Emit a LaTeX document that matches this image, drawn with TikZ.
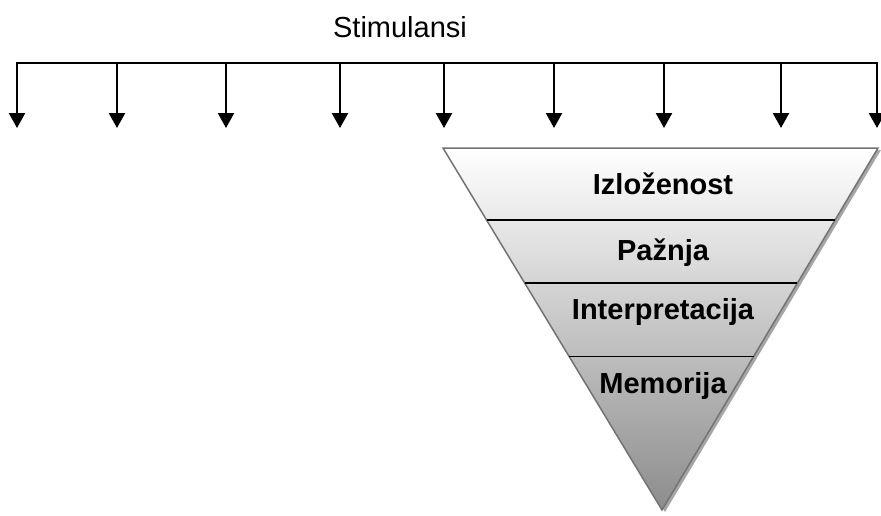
\documentclass[tikz,border=0pt]{standalone}
\usepackage{fontspec}
\setmainfont{Liberation Sans}
\usetikzlibrary{arrows.meta,calc}

\begin{document}
\begin{tikzpicture}[x=1pt,y=-1pt,
  lvl/.style={font=\fontsize{29}{33}\selectfont\bfseries,anchor=base},
  stimarrow/.style={line width=2.4pt,-{Triangle[width=16pt,length=15pt]}},
  divider/.style={line width=1.3pt}]
  \useasboundingbox (0,0) rectangle (881,515);

  \node(stim)[anchor=base,font=\fontsize{29}{33}\selectfont] at (400,37) {Stimulansi};

  \foreach \x [count=\i] in {17,117,226,340,444,554,664,781,877}{
    \coordinate (s\i) at (\x,63);
    \coordinate (t\i) at (\x,128);
    \draw [stimarrow] (s\i) -- (t\i);
  }
  \draw [line width=2.4pt,line cap=rect] (s1) -- (s9);

  \coordinate (tl) at (443,148);
  \coordinate (tr) at (878,148);
  \coordinate (ap) at (662,510);
  \fill[black!35] ($(tl)+(3,2)$) -- ($(tr)+(3,2)$) -- ($(ap)+(3,2)$) -- cycle;
  \shade[top color=white,middle color=black!10,bottom color=black!45,draw=black!55,line width=1.5pt]
    (tl) -- (tr) -- (ap) -- cycle;

  \coordinate (l1) at ($(tl)!0.199!(ap)$);
  \coordinate (r1) at ($(tr)!0.199!(ap)$);
  \coordinate (l2) at ($(tl)!0.373!(ap)$);
  \coordinate (r2) at ($(tr)!0.373!(ap)$);
  \coordinate (l3) at ($(tl)!0.575!(ap)$);
  \coordinate (r3) at ($(tr)!0.575!(ap)$);
  \draw [divider] (l1) -- (r1);
  \draw [divider] (l2) -- (r2);
  \draw [divider] (l3) -- (r3);

  \node(izl)[lvl] at (663,194) {Izloženost};
  \node(paz)[lvl] at (663,260) {Pažnja};
  \node(int)[lvl] at (663,319) {Interpretacija};
  \node(mem)[lvl] at (663,393) {Memorija};

\end{tikzpicture}
\end{document}
